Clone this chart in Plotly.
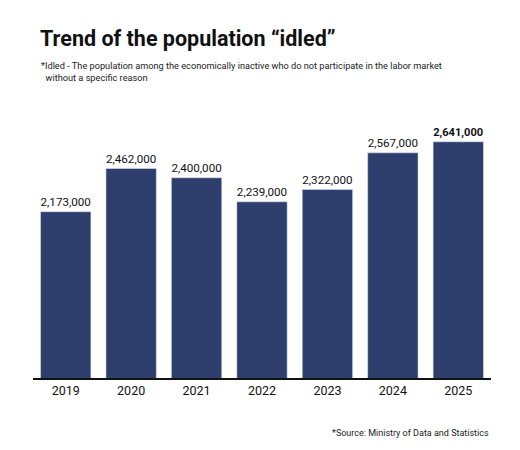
import plotly.graph_objects as go

# Population "idled", by year
years = ["2019", "2020", "2021", "2022", "2023", "2024", "2025"]
idled = [2173000, 2462000, 2400000, 2239000, 2322000, 2567000, 2641000]

labels = [f"{v:,}" for v in idled]
labels[-1] = f"<b>{labels[-1]}</b>"  # latest year is highlighted

FONT = "Roboto, sans-serif"

fig = go.Figure()

fig.add_trace(go.Bar(
    x=years,
    y=idled,
    marker_color="#2e3f6e",
    text=labels,
    textposition="outside",
    cliponaxis=False,
    outsidetextfont=dict(family=FONT, size=[12.5, 12.5, 12.5, 12.5, 12.5, 12.5, 13.5], color="#111111"),
    hovertemplate="%{x}: %{y:,}<extra></extra>",
))

# page body has an 8px margin, so the figure is sized a bit under the window
fig.update_layout(
    width=512,
    height=442,
    margin=dict(l=25, r=29, t=110, b=72),
    paper_bgcolor="white",
    plot_bgcolor="white",
    bargap=0.23,
    showlegend=False,
    title=dict(
        text="<b>Trend of the population “idled”</b>",
        x=0, xref="paper", xanchor="left",
        y=0.93, yanchor="middle",
        pad=dict(l=7),
        font=dict(family=FONT, size=21.5, color="#111111"),
    ),
)

fig.update_xaxes(
    showline=True,
    linecolor="#111111",
    linewidth=1.5,
    ticks="",
    showgrid=False,
    tickfont=dict(family=FONT, size=12.5, color="#111111"),
)

fig.update_yaxes(
    range=[1060000, 2800000],
    visible=False,
    showgrid=False,
)

# Subtitle note
fig.add_annotation(
    text="*Idled - The population among the economically inactive who do not participate in the labor market<br>"
         "  without a specific reason",
    xref="paper", yref="paper",
    x=0.013, y=1.179,
    xanchor="left", yanchor="middle",
    align="left",
    showarrow=False,
    font=dict(family=FONT, size=9.2, color="#222222"),
)

# Source note
fig.add_annotation(
    text="*Source: Ministry of Data and Statistics",
    xref="paper", yref="paper",
    x=1, y=-0.2115,
    xanchor="right", yanchor="middle",
    showarrow=False,
    font=dict(family=FONT, size=9, color="#222222"),
)

fig.write_html("out.html")
